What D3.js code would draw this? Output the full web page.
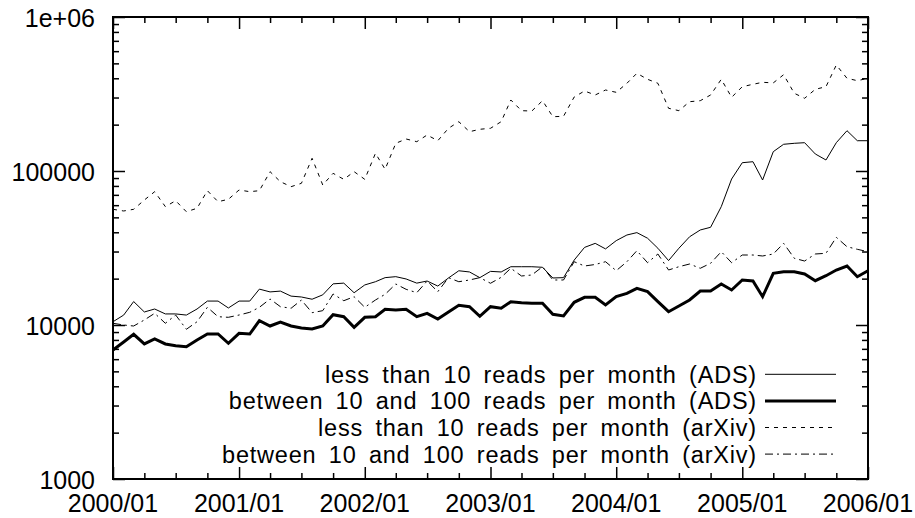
<!DOCTYPE html>
<meta charset="utf-8">
<head>
    <script src="https://d3js.org/d3.v7.min.js"></script>
    <style>
    body { margin: 0; background: white; }
    text { font-family: "Liberation Sans", Arial, sans-serif; fill: #000; font-size: 25px; }
    .legend text { font-size: 23.5px; letter-spacing: 0.8px; word-spacing: 5px; }
    .axis path { display: none; }
    .axis line { stroke: #000; stroke-width: 1.5px; }
    .series { fill: none; stroke: #000; }
    </style>
</head>
<body>
<svg id="chart"></svg>
<script>

// monthly reads, 2000/01 .. 2006/01
var firstMonth = new Date(2000, 0, 1),
    lastMonth = new Date(2006, 0, 1);

var adsLow = [10500, 11600, 14200, 12150, 12700, 11800, 11800, 11600, 12700, 14300, 14300, 12900,
    14300, 14300, 17100, 16400, 16600, 15400, 15200, 14700, 15700, 18500, 18700, 16200,
    18200, 19100, 20300, 20600, 19900, 18700, 19300, 17900, 20200, 22500, 22100, 20300,
    22300, 22100, 23900, 23900, 23900, 23700, 20200, 20300, 26400, 31900, 33900, 31200,
    35300, 38400, 39800, 36600, 31500, 26200, 31500, 37400, 41400, 43100, 58700, 88700,
    113200, 114900, 87400, 133500, 149100, 151300, 152700, 129000, 117900, 152700, 182700, 157300,
    157300];

var adsMid = [6880, 7760, 8700, 7530, 8110, 7530, 7340, 7230, 7990, 8740, 8740, 7610,
    8830, 8740, 10660, 9850, 10460, 9850, 9560, 9420, 9850, 11670, 11320, 9660,
    11220, 11320, 12650, 12520, 12650, 11320, 11910, 10940, 12150, 13430, 13150, 11390,
    13150, 12840, 14170, 13960, 13830, 13830, 11740, 11440, 14040, 15130, 15130, 13490,
    15270, 16060, 17310, 16460, 14170, 12200, 13290, 14530, 16630, 16630, 18460, 16880,
    19600, 19300, 15270, 21660, 22190, 22190, 21440, 19400, 20900, 22760, 24160, 20580,
    22520];

var arxivLow = [56400, 55000, 56400, 64800, 73400, 58700, 64100, 54400, 57260, 74500, 63200, 65500,
    75300, 73400, 74500, 99000, 85200, 79100, 83200, 120900, 81100, 96600, 88300, 99000,
    88300, 130300, 102600, 151300, 161400, 155000, 171300, 157300, 189400, 209000, 180000, 186600,
    189400, 209000, 289100, 246400, 245200, 286100, 225200, 226600, 302400, 330700, 311600, 335700,
    324300, 371100, 430900, 394000, 371100, 255400, 246400, 281800, 286100, 311600, 394000, 301000,
    352700, 365600, 376700, 373300, 422000, 319500, 296600, 339200, 352700, 487900, 400000, 385900,
    400000];

var arxivMid = [10260, 10000, 9850, 10780, 11910, 10260, 11610, 9380, 10500, 13030, 11320, 11220,
    11610, 12090, 13030, 14750, 13150, 12840, 14530, 12020, 12390, 15900, 14380, 15270,
    13030, 14530, 15820, 18460, 17050, 16210, 19300, 16460, 20300, 19100, 19600, 20300,
    18660, 20400, 23350, 20810, 21120, 23900, 19600, 19600, 25760, 24160, 24710, 25760,
    22520, 25760, 30370, 25380, 28910, 22760, 23900, 24890, 23350, 25160, 29920, 25380,
    28480, 28480, 28060, 28910, 33930, 27110, 26030, 28910, 29210, 37110, 32240, 31010,
    29920];

var seriesNames = [
    "less than 10 reads per month (ADS)",
    "between 10 and 100 reads per month (ADS)",
    "less than 10 reads per month (arXiv)",
    "between 10 and 100 reads per month (arXiv)"
];

var xTickLabels = ["2000/01", "2001/01", "2002/01", "2003/01", "2004/01", "2005/01", "2006/01"];
var yTickValues = [1000, 10000, 100000, 1000000];
var yTickLabels = ["1000", "10000", "100000", "1e+06"];

var months = d3.timeMonth.range(firstMonth, d3.timeMonth.offset(lastMonth, 1));

var width = 915, height = 518;
var margin = {top: 17, right: 47, bottom: 39, left: 113};

var svg = d3.select("#chart")
    .attr("width", width)
    .attr("height", height);

var x = d3.scaleTime()
    .domain([firstMonth, lastMonth])
    .range([margin.left, width - margin.right]);

var y = d3.scaleLog()
    .domain([1000, 1000000])
    .range([height - margin.bottom, margin.top]);

var x0 = x.range()[0], x1 = x.range()[1],
    y0 = y.range()[0], y1 = y.range()[1];

// ticks (gnuplot style: inside, mirrored)
var majorX = d3.timeYear.range(firstMonth, d3.timeMonth.offset(lastMonth, 1));
var minorX = d3.timeMonth.every(3).range(firstMonth, lastMonth)
    .filter(function(d) { return d.getMonth() != 0; });
var minorY = [];
[1000, 10000, 100000].forEach(function(dec) {
    for (var k = 2; k < 10; k++) minorY.push(dec * k);
});

var majorLen = 12, minorLen = 6;

svg.append("g").attr("class", "axis")
    .attr("transform", "translate(0," + y0 + ")")
    .call(d3.axisBottom(x).tickValues(majorX).tickSize(-majorLen).tickFormat(""));
svg.append("g").attr("class", "axis")
    .attr("transform", "translate(0," + y0 + ")")
    .call(d3.axisBottom(x).tickValues(minorX).tickSize(-minorLen).tickFormat(""));
svg.append("g").attr("class", "axis")
    .attr("transform", "translate(0," + y1 + ")")
    .call(d3.axisTop(x).tickValues(majorX).tickSize(-majorLen).tickFormat(""));
svg.append("g").attr("class", "axis")
    .attr("transform", "translate(0," + y1 + ")")
    .call(d3.axisTop(x).tickValues(minorX).tickSize(-minorLen).tickFormat(""));

svg.append("g").attr("class", "axis")
    .attr("transform", "translate(" + x0 + ",0)")
    .call(d3.axisLeft(y).tickValues(yTickValues).tickSize(-majorLen).tickFormat(""));
svg.append("g").attr("class", "axis")
    .attr("transform", "translate(" + x0 + ",0)")
    .call(d3.axisLeft(y).tickValues(minorY).tickSize(-minorLen).tickFormat(""));
svg.append("g").attr("class", "axis")
    .attr("transform", "translate(" + x1 + ",0)")
    .call(d3.axisRight(y).tickValues(yTickValues).tickSize(-majorLen).tickFormat(""));
svg.append("g").attr("class", "axis")
    .attr("transform", "translate(" + x1 + ",0)")
    .call(d3.axisRight(y).tickValues(minorY).tickSize(-minorLen).tickFormat(""));

// tick labels
svg.selectAll(".ylab")
    .data(yTickValues)
    .enter().append("text")
    .attr("x", x0 - 18)
    .attr("y", function(d) { return y(d) + 10; })
    .attr("text-anchor", "end")
    .text(function(d, i) { return yTickLabels[i]; });

svg.selectAll(".xlab")
    .data(majorX)
    .enter().append("text")
    .attr("x", function(d) { return x(d); })
    .attr("y", y0 + 33)
    .attr("text-anchor", "middle")
    .text(function(d, i) { return xTickLabels[i]; });

// border
svg.append("rect")
    .attr("x", x0).attr("y", y1)
    .attr("width", x1 - x0).attr("height", y0 - y1)
    .attr("fill", "none")
    .attr("stroke", "#000")
    .attr("stroke-width", 2);

// series
var styles = [
    {data: adsLow, width: 1, dash: null},
    {data: adsMid, width: 3, dash: null},
    {data: arxivLow, width: 1, dash: "4,5"},
    {data: arxivMid, width: 1, dash: "8,4,2,4"}
];

var line = d3.line()
    .x(function(d, i) { return x(months[i]); })
    .y(function(d) { return y(d); });

styles.forEach(function(s) {
    svg.append("path")
        .datum(s.data)
        .attr("class", "series")
        .attr("stroke-width", s.width)
        .attr("stroke-dasharray", s.dash)
        .attr("d", line);
});

// legend
var legend = svg.append("g").attr("class", "legend");
styles.forEach(function(s, i) {
    var ly = 374.3 + i * 26.6;
    legend.append("text")
        .attr("x", 757)
        .attr("y", ly + 8.5)
        .attr("text-anchor", "end")
        .text(seriesNames[i]);
    legend.append("line")
        .attr("x1", 765).attr("x2", 836)
        .attr("y1", ly).attr("y2", ly)
        .attr("stroke", "#000")
        .attr("stroke-width", s.width)
        .attr("stroke-dasharray", s.dash);
});

</script>
</body>
